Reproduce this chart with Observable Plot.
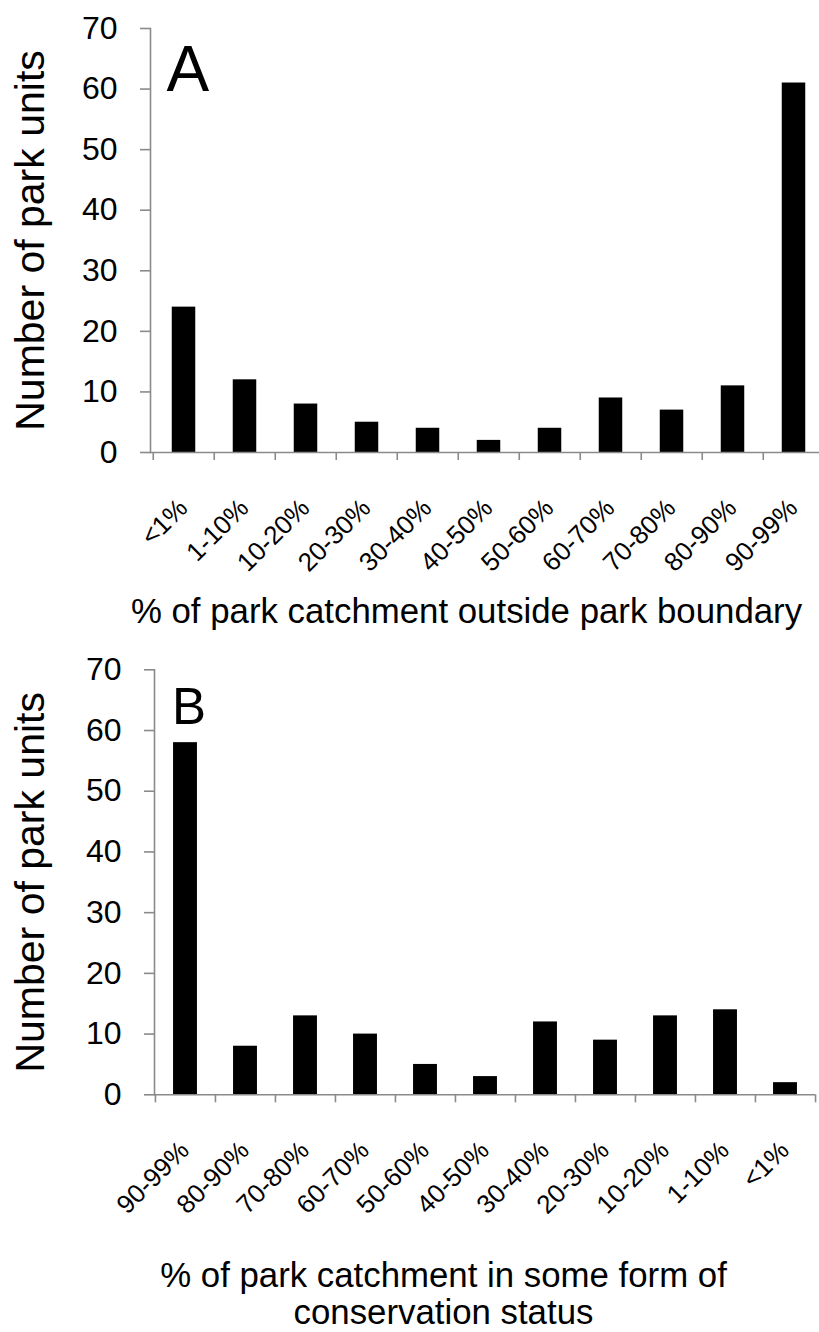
<!DOCTYPE html>
<html>
<head>
<meta charset="utf-8">
<script src="https://cdn.jsdelivr.net/npm/d3@7"></script>
<script src="https://cdn.jsdelivr.net/npm/@observablehq/plot@0.6"></script>
<style>
  html, body { margin: 0; padding: 0; background: #fff; }
  svg { display: block; }
</style>
</head>
<body>
<script>
// Panel A: share of each park's catchment lying outside the park boundary
const catsA = ["<1%", "1-10%", "10-20%", "20-30%", "30-40%", "40-50%", "50-60%", "60-70%", "70-80%", "80-90%", "90-99%"];
const valsA = [24, 12, 8, 5, 4, 2, 4, 9, 7, 11, 61];

// Panel B: share of each park's catchment under some conservation status
const catsB = ["90-99%", "80-90%", "70-80%", "60-70%", "50-60%", "40-50%", "30-40%", "20-30%", "10-20%", "1-10%", "<1%"];
const valsB = [58, 8, 13, 10, 5, 3, 12, 9, 13, 14, 2];

const yTicks = [0, 10, 20, 30, 40, 50, 60, 70];
const yTitle = "Number of park units";
const xTitleA = "% of park catchment outside park boundary";
const xTitleB = "% of park catchment in some form of\nconservation status";

const FONT = "'Liberation Sans', Arial, Helvetica, sans-serif";
const AXIS = "#8a8a8a";

function panel({cats, vals, letter, letterSize, letterDx, letterDy, xTitle, titleDx, titleDy,
                height, marginTop, marginBottom, marginLeft, rangeEnd, marginRight}) {
  const data = cats.map((c, i) => ({cat: c, n: vals[i]}));
  const step = (rangeEnd - marginLeft) / cats.length;
  const barW = 24;
  const inset = (step - barW) / 2;
  return Plot.plot({
    width: 819,
    height,
    marginTop, marginBottom, marginLeft, marginRight,
    style: {fontFamily: FONT, background: "#fff", color: "#000", overflow: "hidden"},
    x: {domain: cats, range: [marginLeft, rangeEnd], padding: 0, axis: null},
    y: {domain: [0, 70], axis: null},
    marks: [
      Plot.barY(data, {x: "cat", y: "n", fill: "#000", insetLeft: inset, insetRight: inset}),
      // axis lines
      Plot.frame({anchor: "left", stroke: AXIS, strokeWidth: 1.6}),
      Plot.ruleY([0], {stroke: AXIS, strokeWidth: 1.6}),
      // y ticks and labels
      Plot.axisY({ticks: yTicks, label: null, tickSize: 10, tickFormat: () => "", stroke: AXIS, strokeWidth: 1.6}),
      Plot.axisY({ticks: yTicks, label: null, tickSize: 0, tickPadding: 33, fontSize: 32, fill: "#000"}),
      // x ticks sit on category boundaries
      Plot.axisX({ticks: cats, label: null, tickSize: 8, tickFormat: () => "", dx: -step / 2, stroke: AXIS, strokeWidth: 1.6}),
      Plot.axisX({ticks: [cats[cats.length - 1]], label: null, tickSize: 8, tickFormat: () => "", dx: step / 2, stroke: AXIS, strokeWidth: 1.6}),
      // slanted category labels
      Plot.text(data, {x: "cat", y: () => 0, text: "cat", rotate: -45, textAnchor: "end", lineAnchor: "top",
                       dx: -8, dy: 44, fontSize: 26, fill: "#000"}),
      // y axis title
      Plot.text([yTitle], {frameAnchor: "left", textAnchor: "middle", rotate: -90, dx: 30 - marginLeft,
                           fontSize: 41, fill: "#000"}),
      // panel letter
      Plot.text([letter], {frameAnchor: "top-left", textAnchor: "start", lineAnchor: "top",
                           dx: letterDx, dy: letterDy, fontSize: letterSize, fill: "#000"}),
      // x axis title
      Plot.text([xTitle], {frameAnchor: "bottom", textAnchor: "middle", lineAnchor: "top", dx: titleDx, dy: titleDy,
                           fontSize: 34.8, lineHeight: 1.055, fill: "#000"})
    ]
  });
}

document.body.append(panel({
  cats: catsA, vals: valsA, letter: "A", letterSize: 64, letterDx: 16, letterDy: 17,
  xTitle: xTitleA, titleDx: 466 - 484.5, titleDy: 144,
  height: 640, marginTop: 28, marginBottom: 188, marginLeft: 150, rangeEnd: 826.5, marginRight: 0
}));

document.body.append(panel({
  cats: catsB, vals: valsB, letter: "B", letterSize: 51, letterDx: 17.5, letterDy: 17.5,
  xTitle: xTitleB, titleDx: 443 - 484.5, titleDy: 166,
  height: 692, marginTop: 29.3, marginBottom: 237.7, marginLeft: 154, rangeEnd: 815, marginRight: 4
}));
</script>
</body>
</html>
